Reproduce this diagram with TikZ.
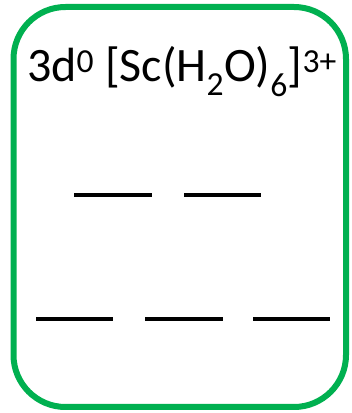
\documentclass[tikz,border=0pt]{standalone}
\usepackage{fontspec}
\setmainfont{Carlito}
\definecolor{boxgreen}{HTML}{00B050}
\begin{document}
\begin{tikzpicture}[x=1pt,y=1pt,
  level/.style={line width=4pt,black}]
\useasboundingbox (0,0) rectangle (352,413);
\draw[boxgreen,line width=6pt,rounded corners=52pt] (13.5,6) rectangle (346,406);
\node[anchor=base,inner sep=0pt,font=\fontsize{48}{56}\selectfont] (title) at (182,331)
  {3d\textsuperscript{0} [Sc(H\textsubscript{2}O)\textsubscript{6}]\textsuperscript{3+}};
\coordinate (u1a) at (74,218); \coordinate (u1b) at (152,218);
\coordinate (u2a) at (184,218); \coordinate (u2b) at (261,218);
\coordinate (l1a) at (36,94); \coordinate (l1b) at (113,94);
\coordinate (l2a) at (145,94); \coordinate (l2b) at (223,94);
\coordinate (l3a) at (253,94); \coordinate (l3b) at (330,94);
\draw[level] (u1a) -- (u1b);
\draw[level] (u2a) -- (u2b);
\draw[level] (l1a) -- (l1b);
\draw[level] (l2a) -- (l2b);
\draw[level] (l3a) -- (l3b);
\end{tikzpicture}
\end{document}
